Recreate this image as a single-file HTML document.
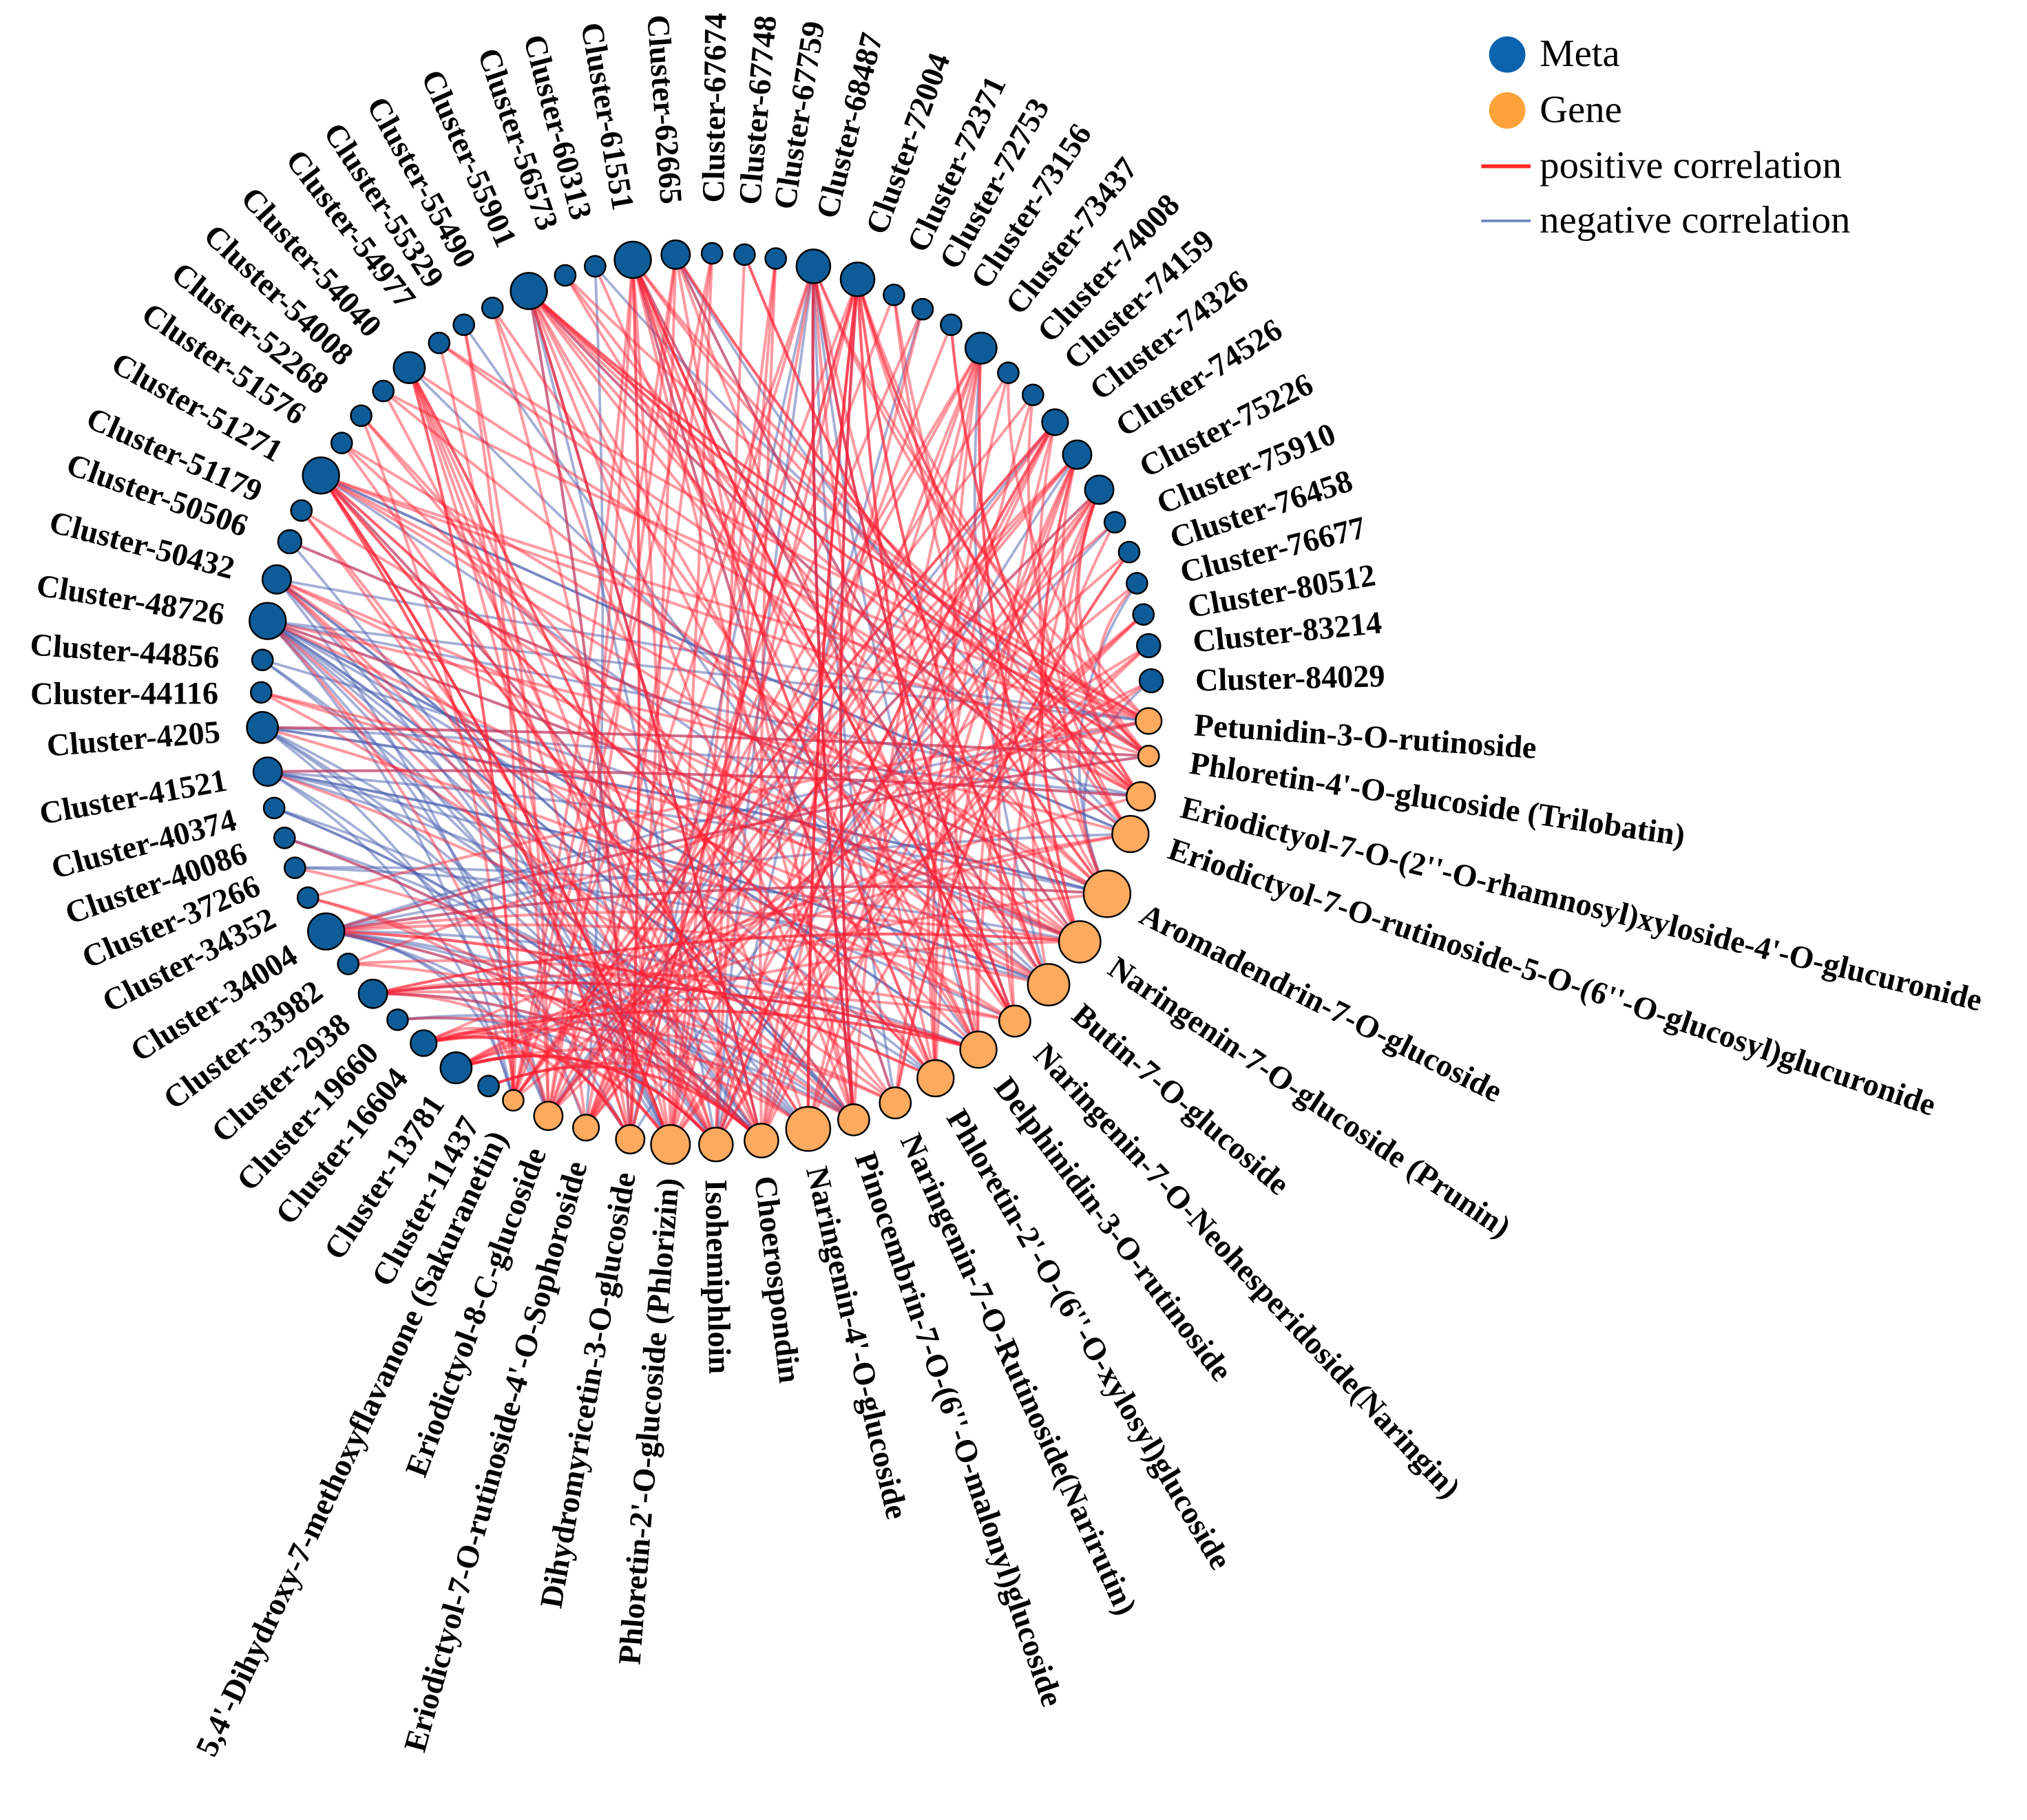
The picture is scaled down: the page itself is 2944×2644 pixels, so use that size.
<!DOCTYPE html>
<html><head><meta charset="utf-8">
<style>
html,body{margin:0;padding:0;background:#fff;}
svg{display:block;}
.lb{font-family:"Liberation Serif",serif;font-weight:bold;font-size:24.5px;fill:#000;}
.lg{font-family:"Liberation Serif",serif;font-size:30px;fill:#000;}
</style></head>
<body>
<svg id="s" width="2944" height="2644" viewBox="0 0 1560 1401" preserveAspectRatio="none" xmlns="http://www.w3.org/2000/svg">
<rect width="1560" height="1401" fill="#fff"/>
<g id="edges"></g>
<g id="nodes"></g>
<g id="labels">
<text class="lb">Cluster-11437</text>
<text class="lb">Cluster-13781</text>
<text class="lb">Cluster-16604</text>
<text class="lb">Cluster-19660</text>
<text class="lb">Cluster-2938</text>
<text class="lb">Cluster-33982</text>
<text class="lb">Cluster-34004</text>
<text class="lb">Cluster-34352</text>
<text class="lb">Cluster-37266</text>
<text class="lb">Cluster-40086</text>
<text class="lb">Cluster-40374</text>
<text class="lb">Cluster-41521</text>
<text class="lb">Cluster-4205</text>
<text class="lb">Cluster-44116</text>
<text class="lb">Cluster-44856</text>
<text class="lb">Cluster-48726</text>
<text class="lb">Cluster-50432</text>
<text class="lb">Cluster-50506</text>
<text class="lb">Cluster-51179</text>
<text class="lb">Cluster-51271</text>
<text class="lb">Cluster-51576</text>
<text class="lb">Cluster-52268</text>
<text class="lb">Cluster-54008</text>
<text class="lb">Cluster-54040</text>
<text class="lb">Cluster-54977</text>
<text class="lb">Cluster-55329</text>
<text class="lb">Cluster-55490</text>
<text class="lb">Cluster-55901</text>
<text class="lb">Cluster-56573</text>
<text class="lb">Cluster-60313</text>
<text class="lb">Cluster-61551</text>
<text class="lb">Cluster-62665</text>
<text class="lb">Cluster-67674</text>
<text class="lb">Cluster-67748</text>
<text class="lb">Cluster-67759</text>
<text class="lb">Cluster-68487</text>
<text class="lb">Cluster-72004</text>
<text class="lb">Cluster-72371</text>
<text class="lb">Cluster-72753</text>
<text class="lb">Cluster-73156</text>
<text class="lb">Cluster-73437</text>
<text class="lb">Cluster-74008</text>
<text class="lb">Cluster-74159</text>
<text class="lb">Cluster-74326</text>
<text class="lb">Cluster-74526</text>
<text class="lb">Cluster-75226</text>
<text class="lb">Cluster-75910</text>
<text class="lb">Cluster-76458</text>
<text class="lb">Cluster-76677</text>
<text class="lb">Cluster-80512</text>
<text class="lb">Cluster-83214</text>
<text class="lb">Cluster-84029</text>
<text class="lb">Petunidin-3-O-rutinoside</text>
<text class="lb">Phloretin-4'-O-glucoside (Trilobatin)</text>
<text class="lb">Eriodictyol-7-O-(2''-O-rhamnosyl)xyloside-4'-O-glucuronide</text>
<text class="lb">Eriodictyol-7-O-rutinoside-5-O-(6''-O-glucosyl)glucuronide</text>
<text class="lb">Aromadendrin-7-O-glucoside</text>
<text class="lb">Naringenin-7-O-glucoside (Prunin)</text>
<text class="lb">Butin-7-O-glucoside</text>
<text class="lb">Naringenin-7-O-Neohesperidoside(Naringin)</text>
<text class="lb">Delphinidin-3-O-rutinoside</text>
<text class="lb">Phloretin-2'-O-(6''-O-xylosyl)glucoside</text>
<text class="lb">Naringenin-7-O-Rutinoside(Narirutin)</text>
<text class="lb">Pinocembrin-7-O-(6''-O-malonyl)glucoside</text>
<text class="lb">Naringenin-4'-O-glucoside</text>
<text class="lb">Choerospondin</text>
<text class="lb">Isohemiphloin</text>
<text class="lb">Phloretin-2'-O-glucoside (Phlorizin)</text>
<text class="lb">Dihydromyricetin-3-O-glucoside</text>
<text class="lb">Eriodictyol-7-O-rutinoside-4'-O-Sophoroside</text>
<text class="lb">Eriodictyol-8-C-glucoside</text>
<text class="lb">5,4'-Dihydroxy-7-methoxyflavanone (Sakuranetin)</text>
</g>
<g id="legend">
<circle cx="1160" cy="42" r="14" fill="#0b63b0"/>
<text class="lg" x="1185" y="51">Meta</text>
<circle cx="1160" cy="85" r="14" fill="#fda33a"/>
<text class="lg" x="1185" y="94">Gene</text>
<line x1="1140" y1="128" x2="1178" y2="128" stroke="#ff2a2a" stroke-width="3"/>
<text class="lg" x="1185" y="137">positive correlation</text>
<line x1="1140" y1="170" x2="1178" y2="170" stroke="#6d86c0" stroke-width="2"/>
<text class="lg" x="1185" y="179">negative correlation</text>
</g>
</svg>
<script>
(function(){
var cx=544,cy=532,R=376;
var N=[
[376,836,8,0],[351,822,12,0],[326,803,10,0],[306,785,8,0],[287,765,11,0],[268,742,8,0],[251,717,14,0],[237,691,8,0],[227,668,8,0],[219,645,8,0],[211,622,8,0],[206,594,11,0],[202,560,12,0],[201,533,8,0],[202,508,8,0],[206,478,14,0],[213,446,11,0],[223,417,9,0],[232,393,8,0],[247,366,14,0],[263,341,8,0],[278,320,8,0],[295,301,8,0],[315,283,12,0],[338,264,8,0],[357,250,8,0],[379,237,8,0],[407,224,14,0],[435,212,8,0],[458,205,8,0],[487,200,14,0],[520,196,11,0],[548,195,8,0],[573,196,8,0],[597,199,8,0],[626,205,13,0],[660,215,13,0],[688,227,8,0],[710,238,8,0],[732,250,8,0],[755,268,12,0],[776,287,8,0],[795,304,8,0],[812,325,10,0],[829,350,11,0],[846,377,11,0],[858,402,8,0],[869,425,8,0],[875,449,8,0],[880,473,8,0],[884,497,9,0],[886,524,9,0],
[884,555,10,1],[884,582,8,1],[878,613,11,1],[870,642,14,1],[852,688,18,1],[831,725,16,1],[807,758,16,1],[781,786,12,1],[753,808,14,1],[720,830,14,1],[689,849,12,1],[657,862,12,1],[622,869,17,1],[586,878,13,1],[551,881,13,1],[516,881,15,1],[485,877,11,1],[451,868,10,1],[422,859,11,1],[395,847,8,1]];
var seed=12345;function rnd(){seed=(seed*1103515245+12345)%2147483648;return seed/2147483648;}
var eg=document.getElementById("edges");
var genes=[];for(var i=0;i<N.length;i++)if(N[i][3]==1)genes.push(i);
var blueHeavy={11:1,12:1,14:1,15:1,16:1,17:1,8:1,9:1,10:1,6:1};
var reds="",blues="";
for(var i=0;i<52;i++){
 var n=N[i];var k=n[2]>=13?18:(n[2]>=10?10:3);
 for(var e=0;e<k;e++){
  var g=N[genes[Math.floor(rnd()*genes.length)]];
  var mx=(n[0]+g[0])/2,my=(n[1]+g[1])/2;
  var qx=mx+(cx-mx)*0.2,qy=my+(cy-my)*0.2;
  var d="M"+n[0]+","+n[1]+"Q"+qx.toFixed(1)+","+qy.toFixed(1)+" "+g[0]+","+g[1];
  var pb=blueHeavy[i]?0.75:0.12;
  if(rnd()<pb)blues+='<path d="'+d+'"/>';else reds+='<path d="'+d+'"/>';
 }
}
eg.innerHTML='<g fill="none" stroke="#4a5fb0" stroke-opacity="0.5" stroke-width="2">'+blues+'</g><g fill="none" stroke="#ff2030" stroke-opacity="0.45" stroke-width="2.2">'+reds+'</g>';
var ng=document.getElementById("nodes");var h="";
for(var i=0;i<N.length;i++){var n=N[i];h+='<circle cx="'+n[0]+'" cy="'+n[1]+'" r="'+n[2]+'" fill="'+(n[3]?"#fdaa5e":"#0d5c98")+'" stroke="#000" stroke-width="1.3"/>';}
ng.innerHTML=h;
var ts=document.getElementById("labels").getElementsByTagName("text");
for(var i=0;i<ts.length&&i<N.length;i++){
 var n=N[i];var a=Math.atan2(n[1]-cy,n[0]-cx);var deg=a*180/Math.PI;
 var x=cx+R*Math.cos(a),y=cy+R*Math.sin(a);
 var t=ts[i];t.setAttribute("x",x.toFixed(1));t.setAttribute("y",y.toFixed(1));t.setAttribute("dy","0.35em");
 if(Math.cos(a)>=0){t.setAttribute("text-anchor","start");t.setAttribute("transform","rotate("+deg.toFixed(2)+" "+x.toFixed(1)+" "+y.toFixed(1)+")");}
 else{t.setAttribute("text-anchor","end");t.setAttribute("transform","rotate("+(deg+180).toFixed(2)+" "+x.toFixed(1)+" "+y.toFixed(1)+")");}
}
})();
</script>
</body></html>
